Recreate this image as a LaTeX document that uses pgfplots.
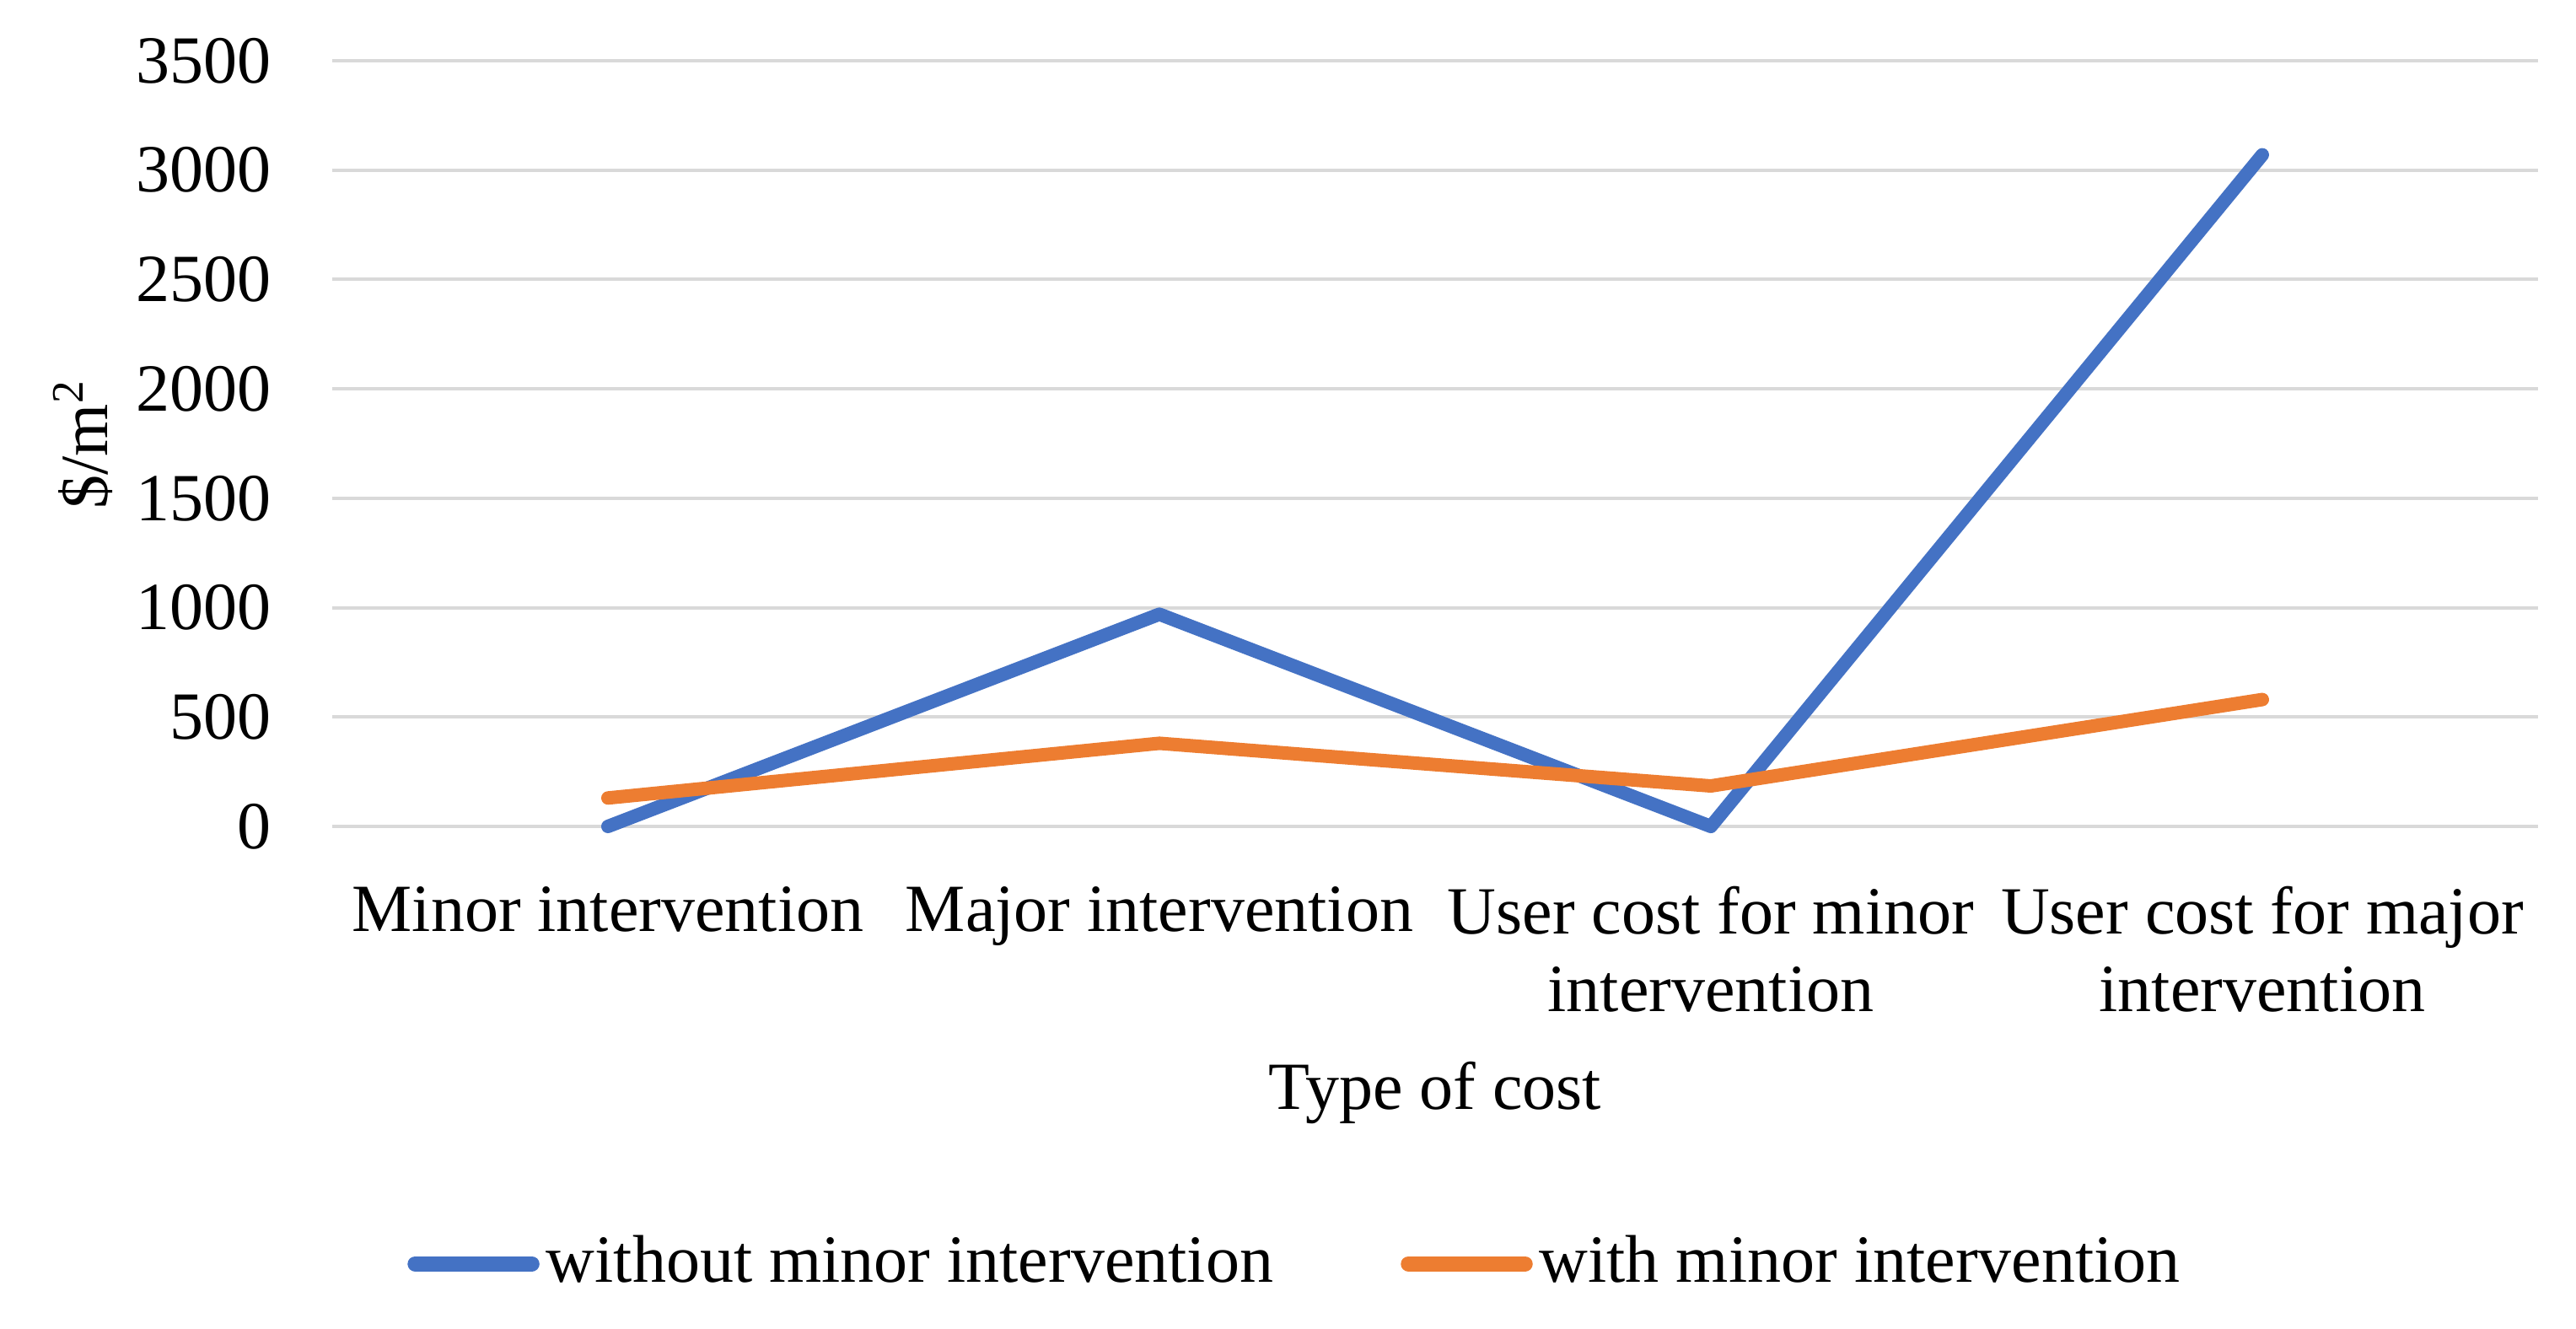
\documentclass[border=0pt]{standalone}
\usepackage{fontspec}
\setmainfont{Liberation Serif}
\usepackage{pgfplots}
\pgfplotsset{compat=1.18}
\definecolor{cblue}{HTML}{4472C4}
\definecolor{corange}{HTML}{ED7D31}
\definecolor{cgrid}{HTML}{D9D9D9}
\begin{document}
\fontsize{12}{13.8}\selectfont
\begin{tikzpicture}
\begin{axis}[
  at={(0,0)}, anchor=south west,
  scale only axis, width=392.4pt, height=136.2pt,
  xmin=0, xmax=4, ymin=0, ymax=3500,
  clip=false,
  ytick={0,500,...,3500},
  xtick={0.5,1.5,2.5,3.5},
  xticklabels={Minor intervention, Major intervention, {User cost for minor\\intervention}, {User cost for major\\intervention}},
  xticklabel style={align=center, anchor=north, inner sep=0pt, yshift=-10.5pt},
  yticklabel style={anchor=east, inner sep=0pt, xshift=-10.65pt},
  major tick length=0pt,
  axis line style={draw=none},
  ymajorgrids, major grid style={cgrid, line width=0.6pt},
  /pgf/number format/assume math mode=true,
  /pgf/number format/1000 sep={},
  tick label style={font=\fontsize{12}{13.8}\selectfont},
  label style={font=\fontsize{12}{13.8}\selectfont},
  xlabel={Type of cost},
  ylabel={\$/m\textsuperscript{2}},
  xlabel style={at={([yshift=-50.25pt]rel axis cs:0.5,0)}, anchor=base, inner sep=0pt},
  ylabel style={at={([xshift=-39.9pt]rel axis cs:0,0.5)}, anchor=base, inner sep=0pt},
  legend columns=2,
  legend style={at={([xshift=13.2pt, yshift=-77.8pt]rel axis cs:0,0)}, anchor=west,
    draw=none, fill=none, inner sep=0pt,
    font=\fontsize{12}{13.8}\selectfont,
    nodes={inner sep=0pt},
    /tikz/every odd column/.append style={column sep=1.2pt},
    /tikz/every even column/.append style={column sep=22.7pt}},
  legend image code/.code={\draw[#1, line width=2.75pt, line cap=round] (1.375pt,0pt) -- (22.1pt,0pt);},
]
\addplot[cblue, line width=2.4pt, line cap=round, line join=round] coordinates {(0.5,0) (1.5,970) (2.5,0) (3.5,3070)};
\addlegendentry{without minor intervention}
\addplot[corange, line width=2.4pt, line cap=round, line join=round] coordinates {(0.5,130) (1.5,380) (2.5,185) (3.5,580)};
\addlegendentry{with minor intervention}
\end{axis}
\pgfresetboundingbox
\path[use as bounding box] (-59.1pt,-89.25pt) rectangle (399.15pt,147pt);
\end{tikzpicture}
\end{document}
